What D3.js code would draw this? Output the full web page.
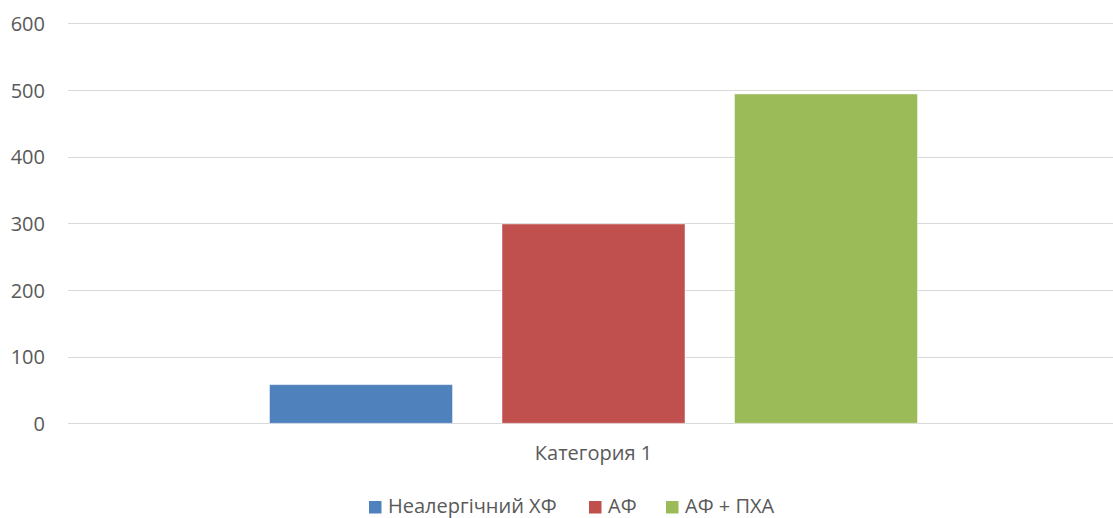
<!DOCTYPE html>
<html><head><meta charset="utf-8">
<script src="https://cdn.jsdelivr.net/npm/d3@7"></script>
<style>body{margin:0;background:#fff;overflow:hidden;} text{font-family:"Open Sans","Noto Sans",sans-serif;fill:#595959;}</style>
</head><body>
<svg id="c" width="1113" height="518"></svg>
<script>
const categories = ["Категория 1"];
const seriesNames = ["Неалергічний ХФ", "АФ", "АФ + ПХА"];
const seriesValues = [58, 299, 494];
const seriesColors = ["#4f81bd", "#c0504d", "#9bbb59"];
const yTicks = [0, 100, 200, 300, 400, 500, 600];

(function () {
const svg = d3.select("#c");
const pL = 68, pR = 1119, pT = 23.3, pB = 423.3;
const y = d3.scaleLinear().domain([0, 600]).range([pB, pT]);
const x0 = d3.scaleBand().domain(categories).range([pL, pR]).paddingInner(0).paddingOuter(0.311);
const x1 = d3.scaleBand().domain(seriesNames).range([0, x0.bandwidth()]).paddingInner(0.213).paddingOuter(0);

// gridlines
svg.append("g").selectAll("line").data(yTicks).join("line")
  .attr("x1", pL).attr("x2", pR)
  .attr("y1", d => Math.round(y(d)) + 0.5).attr("y2", d => Math.round(y(d)) + 0.5)
  .attr("stroke", "#d9d9d9").attr("stroke-width", 1);

// y axis labels
const yAxis = d3.axisLeft(y).tickValues(yTicks).tickSize(0).tickPadding(0);
const ga = svg.append("g").attr("transform", `translate(45,0)`).call(yAxis);
ga.select(".domain").remove();
ga.selectAll("text").attr("font-size", 20).attr("dy", "0.36em").style("font-family", '"Open Sans","Noto Sans",sans-serif').attr("fill", "#595959");

// bars
const g = svg.append("g").selectAll("g").data(categories).join("g")
  .attr("transform", d => `translate(${x0(d)},0)`);
g.selectAll("rect").data(seriesNames.map((n, i) => ({n, v: seriesValues[i], c: seriesColors[i]}))).join("rect")
  .attr("x", d => x1(d.n)).attr("width", x1.bandwidth())
  .attr("y", d => y(d.v)).attr("height", d => y(0) - y(d.v))
  .attr("fill", d => d.c)
  .attr("stroke", "rgba(255,255,255,0.45)").attr("stroke-width", 1);

// category axis labels
svg.append("g").selectAll("text").data(categories).join("text")
  .attr("x", d => x0(d) + x0.bandwidth() / 2).attr("y", 460)
  .attr("text-anchor", "middle").attr("font-size", 20).text(d => d);

// legend
const legendX = [369, 589, 666];
const lg = svg.append("g").selectAll("g").data(seriesNames).join("g")
  .attr("transform", (d, i) => `translate(${legendX[i]},0)`);
lg.append("rect").attr("x", 0).attr("y", 501).attr("width", 12.5).attr("height", 12.5)
  .attr("fill", (d, i) => seriesColors[i]);
lg.append("text").attr("x", 19).attr("y", 513).attr("font-size", 20).text(d => d);
})();
</script>
</body></html>
